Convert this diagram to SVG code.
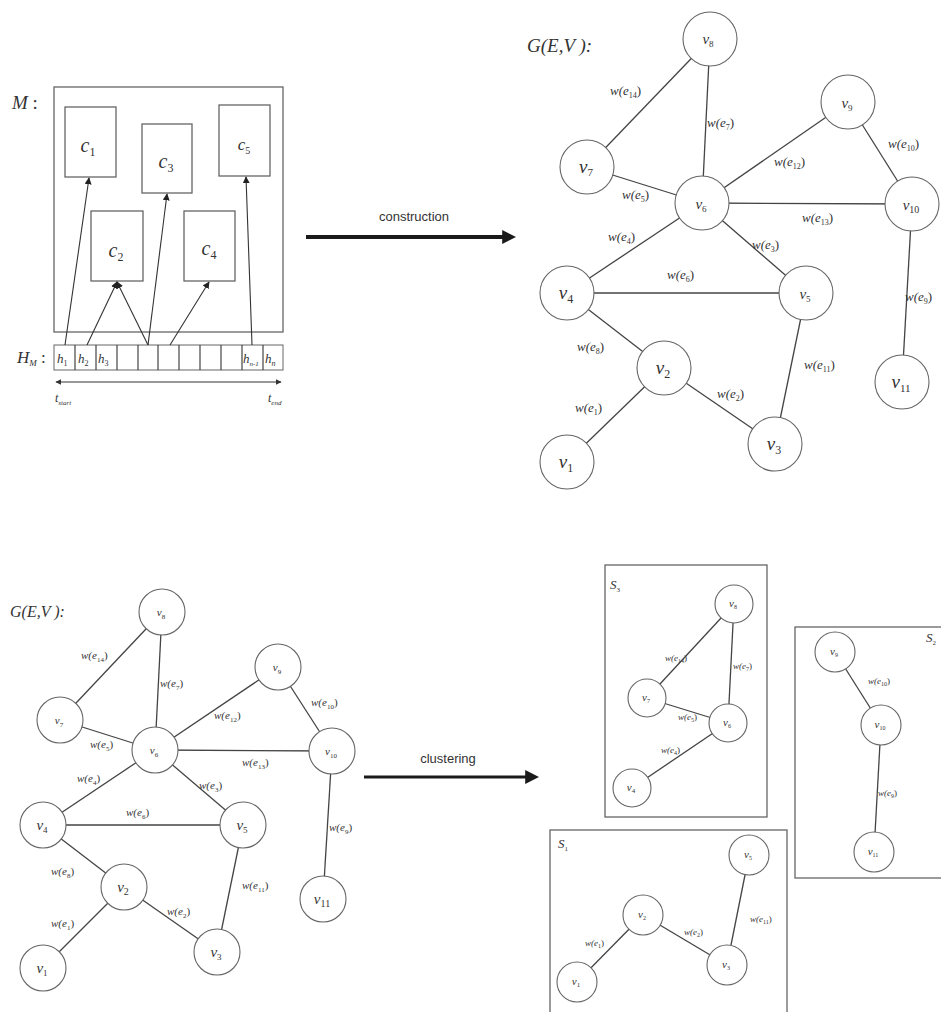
<svg xmlns="http://www.w3.org/2000/svg" width="941" height="1012" viewBox="0 0 941 1012">
<style>
.e{stroke:#444;stroke-width:1.3;fill:none}
.n circle{fill:#fff;stroke:#666;stroke-width:1.1}
.box{fill:none;stroke:#666;stroke-width:1.3}
.m{font-family:"Liberation Serif",serif;font-style:italic;fill:#333}
.m tspan{font-style:normal}
.w1{font-size:13px}
.w2{font-size:11px}
.w3{font-size:9px}
.big{font-size:19px;text-anchor:middle}
.mid{font-size:15px;text-anchor:middle}
.sm{font-size:11px;text-anchor:middle}
.sans{font-family:"Liberation Sans","DejaVu Sans",sans-serif;fill:#333;font-size:13px;text-anchor:middle}
.thin{stroke:#333;stroke-width:1.1;fill:none}
.cell{fill:#fff;stroke:#666;stroke-width:1}
</style>
<defs>
<marker id="ah" viewBox="0 0 10 10" refX="9" refY="5" markerWidth="7" markerHeight="7" markerUnits="userSpaceOnUse" orient="auto"><path d="M0,0 L10,5 L0,10 z" fill="#222"/></marker>
<marker id="ahs" viewBox="0 0 10 10" refX="9" refY="5" markerWidth="6" markerHeight="6" markerUnits="userSpaceOnUse" orient="auto-start-reverse"><path d="M0,0 L10,5 L0,10 z" fill="#333"/></marker>
<marker id="big" viewBox="0 0 10 10" refX="2" refY="5" markerWidth="14" markerHeight="16" markerUnits="userSpaceOnUse" orient="auto"><path d="M0,0 L10,5 L0,10 z" fill="#1a1a1a"/></marker>
</defs>
<rect width="941" height="1012" fill="#fff"/>

<!-- ===== Top-left: memory M ===== -->
<g id="memory">
<text class="m" x="12" y="109" font-size="19">M<tspan> :</tspan></text>
<rect class="box" x="54" y="87" width="229" height="245"/>
</g>
<g id="c1"><rect class="box" x="65" y="107" width="51" height="70"/><text class="m" x="88" y="152" font-size="20" text-anchor="middle">c<tspan font-size="12" dy="4">1</tspan></text></g>
<g id="c3"><rect class="box" x="142" y="124" width="50" height="69"/><text class="m" x="166" y="168" font-size="20" text-anchor="middle">c<tspan font-size="12" dy="4">3</tspan></text></g>
<g id="c5"><rect class="box" x="219" y="105" width="51" height="71"/><text class="m" x="244" y="150" font-size="17" text-anchor="middle">c<tspan font-size="10" dy="4">5</tspan></text></g>
<g id="c2"><rect class="box" x="91" y="211" width="52" height="70"/><text class="m" x="116" y="257" font-size="20" text-anchor="middle">c<tspan font-size="12" dy="4">2</tspan></text></g>
<g id="c4"><rect class="box" x="184" y="211" width="51" height="70"/><text class="m" x="209" y="255" font-size="20" text-anchor="middle">c<tspan font-size="12" dy="4">4</tspan></text></g>

<g id="histogram">
<text class="m" x="17" y="363" font-size="17">H<tspan font-size="9" dy="3" style="font-style:italic">M</tspan><tspan dy="-3"> :</tspan></text>
<rect class="cell" x="54" y="345" width="229" height="25"/>
<path class="thin" stroke="#555" d="M75,345V370M96,345V370M117,345V370M138,345V370M158,345V370M179,345V370M200,345V370M221,345V370M242,345V370M263,345V370"/>
<text class="m" x="57" y="363" font-size="13">h<tspan font-size="8" dy="3">1</tspan></text>
<text class="m" x="78" y="363" font-size="13">h<tspan font-size="8" dy="3">2</tspan></text>
<text class="m" x="98" y="363" font-size="13">h<tspan font-size="8" dy="3">3</tspan></text>
<text class="m" x="243" y="363" font-size="13">h<tspan font-size="7" dy="3" style="font-style:italic">n-1</tspan></text>
<text class="m" x="265" y="363" font-size="13">h<tspan font-size="8" dy="3" style="font-style:italic">n</tspan></text>
<line class="thin" x1="56" y1="382" x2="281" y2="382" marker-start="url(#ahs)" marker-end="url(#ahs)"/>
<text class="m" x="55" y="402" font-size="12">t<tspan font-size="7" dy="3" style="font-style:italic">start</tspan></text>
<text class="m" x="268" y="402" font-size="12">t<tspan font-size="7" dy="3" style="font-style:italic">end</tspan></text>
</g>

<g id="mem-arrows">
<line class="thin" x1="65" y1="345" x2="89" y2="178" marker-end="url(#ah)"/>
<line class="thin" x1="87" y1="345" x2="117" y2="282" marker-end="url(#ah)"/>
<line class="thin" x1="148" y1="345" x2="117" y2="282" marker-end="url(#ah)"/>
<line class="thin" x1="148" y1="345" x2="167" y2="194" marker-end="url(#ah)"/>
<line class="thin" x1="170" y1="345" x2="209" y2="282" marker-end="url(#ah)"/>
<line class="thin" x1="252" y1="345" x2="246" y2="177" marker-end="url(#ah)"/>
</g>

<!-- construction arrow -->
<g id="construction">
<text class="sans" x="414" y="221">construction</text>
<line x1="306" y1="237" x2="505" y2="237" stroke="#1a1a1a" stroke-width="4" marker-end="url(#big)"/>
</g>

<!-- ===== Top-right graph ===== -->
<text class="m" x="527" y="52" font-size="19">G(E,V ):</text>
<g id="edges-top" class="e">
<line x1="710" y1="39" x2="587" y2="167"/>
<line x1="710" y1="39" x2="702" y2="203"/>
<line x1="587" y1="167" x2="702" y2="203"/>
<line x1="702" y1="203" x2="848" y2="102"/>
<line x1="848" y1="102" x2="912" y2="204"/>
<line x1="702" y1="203" x2="912" y2="204"/>
<line x1="702" y1="203" x2="567" y2="293"/>
<line x1="702" y1="203" x2="806" y2="293"/>
<line x1="567" y1="293" x2="806" y2="293"/>
<line x1="567" y1="293" x2="664" y2="368"/>
<line x1="664" y1="368" x2="567" y2="462"/>
<line x1="664" y1="368" x2="775" y2="444"/>
<line x1="806" y1="293" x2="775" y2="444"/>
<line x1="912" y1="204" x2="902" y2="382"/>
</g>
<g id="elabels-top" class="m w1">
<text x="610" y="95">w(e<tspan font-size="8" dy="3">14</tspan><tspan dy="-3">)</tspan></text>
<text x="707" y="127">w(e<tspan font-size="8" dy="3">7</tspan><tspan dy="-3">)</tspan></text>
<text x="622" y="199">w(e<tspan font-size="8" dy="3">5</tspan><tspan dy="-3">)</tspan></text>
<text x="774" y="166">w(e<tspan font-size="8" dy="3">12</tspan><tspan dy="-3">)</tspan></text>
<text x="888" y="148">w(e<tspan font-size="8" dy="3">10</tspan><tspan dy="-3">)</tspan></text>
<text x="802" y="222">w(e<tspan font-size="8" dy="3">13</tspan><tspan dy="-3">)</tspan></text>
<text x="608" y="241">w(e<tspan font-size="8" dy="3">4</tspan><tspan dy="-3">)</tspan></text>
<text x="752" y="249">w(e<tspan font-size="8" dy="3">3</tspan><tspan dy="-3">)</tspan></text>
<text x="667" y="279">w(e<tspan font-size="8" dy="3">6</tspan><tspan dy="-3">)</tspan></text>
<text x="577" y="351">w(e<tspan font-size="8" dy="3">8</tspan><tspan dy="-3">)</tspan></text>
<text x="575" y="412">w(e<tspan font-size="8" dy="3">1</tspan><tspan dy="-3">)</tspan></text>
<text x="717" y="398">w(e<tspan font-size="8" dy="3">2</tspan><tspan dy="-3">)</tspan></text>
<text x="804" y="369">w(e<tspan font-size="8" dy="3">11</tspan><tspan dy="-3">)</tspan></text>
<text x="905" y="301">w(e<tspan font-size="8" dy="3">9</tspan><tspan dy="-3">)</tspan></text>
</g>
<g id="t-v8" class="n"><circle cx="710" cy="39" r="27"/><text class="m mid" x="708" y="44">v<tspan font-size="9" dy="3">8</tspan></text></g>
<g id="t-v7" class="n"><circle cx="587" cy="167" r="27"/><text class="m big" x="586" y="173">v<tspan font-size="11" dy="3">7</tspan></text></g>
<g id="t-v6" class="n"><circle cx="702" cy="203" r="27"/><text class="m mid" x="701" y="209">v<tspan font-size="9" dy="3">6</tspan></text></g>
<g id="t-v9" class="n"><circle cx="848" cy="102" r="27"/><text class="m mid" x="847" y="108">v<tspan font-size="9" dy="3">9</tspan></text></g>
<g id="t-v10" class="n"><circle cx="912" cy="204" r="27"/><text class="m mid" x="911" y="210">v<tspan font-size="10" dy="3">10</tspan></text></g>
<g id="t-v4" class="n"><circle cx="567" cy="293" r="27"/><text class="m big" x="566" y="299">v<tspan font-size="12" dy="4">4</tspan></text></g>
<g id="t-v5" class="n"><circle cx="806" cy="293" r="27"/><text class="m mid" x="805" y="299">v<tspan font-size="9" dy="3">5</tspan></text></g>
<g id="t-v2" class="n"><circle cx="664" cy="368" r="27"/><text class="m big" x="663" y="374">v<tspan font-size="12" dy="4">2</tspan></text></g>
<g id="t-v1" class="n"><circle cx="567" cy="462" r="27"/><text class="m big" x="566" y="468">v<tspan font-size="12" dy="4">1</tspan></text></g>
<g id="t-v3" class="n"><circle cx="775" cy="444" r="27"/><text class="m big" x="774" y="450">v<tspan font-size="12" dy="4">3</tspan></text></g>
<g id="t-v11" class="n"><circle cx="902" cy="382" r="27"/><text class="m big" x="901" y="388">v<tspan font-size="11" dy="4">11</tspan></text></g>

<!-- ===== Bottom-left graph ===== -->
<text class="m" x="10" y="617" font-size="16">G(E,V ):</text>
<g id="edges-bottom" class="e">
<line x1="162" y1="612" x2="60" y2="720"/>
<line x1="162" y1="612" x2="155" y2="750"/>
<line x1="60" y1="720" x2="155" y2="750"/>
<line x1="155" y1="750" x2="278" y2="667"/>
<line x1="278" y1="667" x2="332" y2="751"/>
<line x1="155" y1="750" x2="332" y2="751"/>
<line x1="155" y1="750" x2="43" y2="825"/>
<line x1="155" y1="750" x2="243" y2="825"/>
<line x1="43" y1="825" x2="243" y2="825"/>
<line x1="43" y1="825" x2="124" y2="887"/>
<line x1="124" y1="887" x2="43" y2="968"/>
<line x1="124" y1="887" x2="217" y2="952"/>
<line x1="243" y1="825" x2="217" y2="952"/>
<line x1="332" y1="751" x2="323" y2="899"/>
</g>
<g id="elabels-bottom" class="m w2">
<text x="81" y="659">w(e<tspan font-size="7" dy="3">14</tspan><tspan dy="-3">)</tspan></text>
<text x="160" y="687">w(e<tspan font-size="7" dy="3">7</tspan><tspan dy="-3">)</tspan></text>
<text x="90" y="748">w(e<tspan font-size="7" dy="3">5</tspan><tspan dy="-3">)</tspan></text>
<text x="214" y="719">w(e<tspan font-size="7" dy="3">12</tspan><tspan dy="-3">)</tspan></text>
<text x="311" y="706">w(e<tspan font-size="7" dy="3">10</tspan><tspan dy="-3">)</tspan></text>
<text x="242" y="766">w(e<tspan font-size="7" dy="3">13</tspan><tspan dy="-3">)</tspan></text>
<text x="77" y="782">w(e<tspan font-size="7" dy="3">4</tspan><tspan dy="-3">)</tspan></text>
<text x="199" y="789">w(e<tspan font-size="7" dy="3">3</tspan><tspan dy="-3">)</tspan></text>
<text x="126" y="816">w(e<tspan font-size="7" dy="3">6</tspan><tspan dy="-3">)</tspan></text>
<text x="51" y="875">w(e<tspan font-size="7" dy="3">8</tspan><tspan dy="-3">)</tspan></text>
<text x="51" y="927">w(e<tspan font-size="7" dy="3">1</tspan><tspan dy="-3">)</tspan></text>
<text x="167" y="915">w(e<tspan font-size="7" dy="3">2</tspan><tspan dy="-3">)</tspan></text>
<text x="242" y="889">w(e<tspan font-size="7" dy="3">11</tspan><tspan dy="-3">)</tspan></text>
<text x="329" y="831">w(e<tspan font-size="7" dy="3">9</tspan><tspan dy="-3">)</tspan></text>
</g>
<g id="b-v8" class="n"><circle cx="162" cy="612" r="23"/><text class="m sm" x="161" y="616">v<tspan font-size="7" dy="3">8</tspan></text></g>
<g id="b-v7" class="n"><circle cx="60" cy="720" r="23"/><text class="m sm" x="59" y="724">v<tspan font-size="7" dy="3">7</tspan></text></g>
<g id="b-v6" class="n"><circle cx="155" cy="750" r="23"/><text class="m sm" x="154" y="754">v<tspan font-size="7" dy="3">6</tspan></text></g>
<g id="b-v9" class="n"><circle cx="278" cy="667" r="23"/><text class="m sm" x="277" y="671">v<tspan font-size="7" dy="3">9</tspan></text></g>
<g id="b-v10" class="n"><circle cx="332" cy="751" r="23"/><text class="m sm" x="331" y="755">v<tspan font-size="7" dy="3">10</tspan></text></g>
<g id="b-v4" class="n"><circle cx="43" cy="825" r="23"/><text class="m mid" x="42" y="830">v<tspan font-size="9" dy="3">4</tspan></text></g>
<g id="b-v5" class="n"><circle cx="243" cy="825" r="23"/><text class="m mid" x="242" y="830">v<tspan font-size="9" dy="3">5</tspan></text></g>
<g id="b-v2" class="n"><circle cx="124" cy="887" r="23"/><text class="m mid" x="123" y="892">v<tspan font-size="10" dy="3">2</tspan></text></g>
<g id="b-v1" class="n"><circle cx="43" cy="968" r="23"/><text class="m mid" x="42" y="973">v<tspan font-size="9" dy="3">1</tspan></text></g>
<g id="b-v3" class="n"><circle cx="217" cy="952" r="23"/><text class="m mid" x="216" y="957">v<tspan font-size="9" dy="3">3</tspan></text></g>
<g id="b-v11" class="n"><circle cx="323" cy="899" r="23"/><text class="m mid" x="322" y="904">v<tspan font-size="10" dy="3">11</tspan></text></g>

<!-- clustering arrow -->
<g id="clustering">
<text class="sans" x="448" y="763" font-size="12">clustering</text>
<line x1="364" y1="777" x2="528" y2="777" stroke="#1a1a1a" stroke-width="3" marker-end="url(#big)"/>
</g>

<!-- ===== Clusters ===== -->
<g id="S3">
<rect class="box" x="605" y="565" width="162" height="252"/>
<text class="m" x="610" y="589" font-size="13">S<tspan font-size="7" dy="3">3</tspan></text>
</g>
<g id="S2">
<rect class="box" x="795" y="627" width="160" height="251"/>
<text class="m" x="926" y="642" font-size="13">S<tspan font-size="7" dy="3">2</tspan></text>
</g>
<g id="S1">
<rect class="box" x="550" y="830" width="237" height="200"/>
<text class="m" x="558" y="848" font-size="13">S<tspan font-size="7" dy="3">1</tspan></text>
</g>
<g id="edges-clusters" class="e">
<line x1="734" y1="604" x2="647" y2="698"/>
<line x1="734" y1="604" x2="728" y2="723"/>
<line x1="647" y1="698" x2="728" y2="723"/>
<line x1="728" y1="723" x2="632" y2="788"/>
<line x1="835" y1="652" x2="881" y2="725"/>
<line x1="881" y1="725" x2="874" y2="852"/>
<line x1="749" y1="855" x2="727" y2="965"/>
<line x1="643" y1="915" x2="727" y2="965"/>
<line x1="643" y1="915" x2="577" y2="982"/>
</g>
<g id="elabels-clusters" class="m w3">
<text x="665" y="661">w(e<tspan font-size="6" dy="2">14</tspan><tspan dy="-2">)</tspan></text>
<text x="733" y="669">w(e<tspan font-size="6" dy="2">7</tspan><tspan dy="-2">)</tspan></text>
<text x="678" y="720">w(e<tspan font-size="6" dy="2">5</tspan><tspan dy="-2">)</tspan></text>
<text x="661" y="753">w(e<tspan font-size="6" dy="2">4</tspan><tspan dy="-2">)</tspan></text>
<text x="868" y="684">w(e<tspan font-size="6" dy="2">10</tspan><tspan dy="-2">)</tspan></text>
<text x="878" y="796">w(e<tspan font-size="6" dy="2">9</tspan><tspan dy="-2">)</tspan></text>
<text x="750" y="922">w(e<tspan font-size="6" dy="2">11</tspan><tspan dy="-2">)</tspan></text>
<text x="684" y="935">w(e<tspan font-size="6" dy="2">2</tspan><tspan dy="-2">)</tspan></text>
<text x="585" y="946">w(e<tspan font-size="6" dy="2">1</tspan><tspan dy="-2">)</tspan></text>
</g>
<g id="s-v8" class="n"><circle cx="734" cy="604" r="19"/><text class="m sm" x="733" y="607" font-size="10">v<tspan font-size="6" dy="2">8</tspan></text></g>
<g id="s-v7" class="n"><circle cx="647" cy="698" r="19"/><text class="m sm" x="646" y="701" font-size="10">v<tspan font-size="6" dy="2">7</tspan></text></g>
<g id="s-v6" class="n"><circle cx="728" cy="723" r="19"/><text class="m sm" x="727" y="726" font-size="10">v<tspan font-size="6" dy="2">6</tspan></text></g>
<g id="s-v4" class="n"><circle cx="632" cy="788" r="19"/><text class="m sm" x="631" y="791">v<tspan font-size="7" dy="2">4</tspan></text></g>
<g id="s-v9" class="n"><circle cx="835" cy="652" r="20"/><text class="m sm" x="834" y="655" font-size="10">v<tspan font-size="6" dy="2">9</tspan></text></g>
<g id="s-v10" class="n"><circle cx="881" cy="725" r="20"/><text class="m sm" x="880" y="728" font-size="10">v<tspan font-size="6" dy="2">10</tspan></text></g>
<g id="s-v11" class="n"><circle cx="874" cy="852" r="20"/><text class="m sm" x="873" y="855" font-size="10">v<tspan font-size="6" dy="2">11</tspan></text></g>
<g id="s-v5" class="n"><circle cx="749" cy="855" r="20"/><text class="m sm" x="748" y="858" font-size="10">v<tspan font-size="6" dy="2">5</tspan></text></g>
<g id="s-v2" class="n"><circle cx="643" cy="915" r="20"/><text class="m sm" x="642" y="918" font-size="10">v<tspan font-size="6" dy="2">2</tspan></text></g>
<g id="s-v1" class="n"><circle cx="577" cy="982" r="20"/><text class="m sm" x="576" y="985">v<tspan font-size="7" dy="2">1</tspan></text></g>
<g id="s-v3" class="n"><circle cx="727" cy="965" r="20"/><text class="m sm" x="726" y="968" font-size="10">v<tspan font-size="6" dy="2">3</tspan></text></g>
</svg>
